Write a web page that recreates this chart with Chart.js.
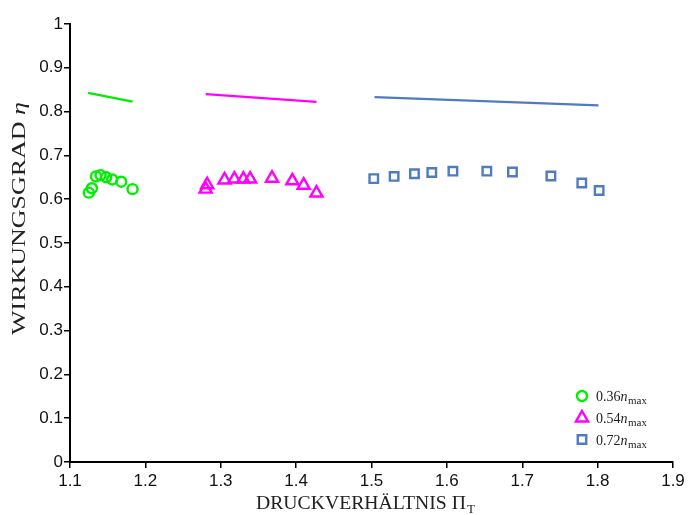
<!DOCTYPE html>
<html>
<head>
<meta charset="utf-8">
<script src="https://cdn.jsdelivr.net/npm/chart.js@4.4.1/dist/chart.umd.min.js"></script>
<style>
  html, body { margin: 0; padding: 0; background: #fff; }
</style>
</head>
<body>
<canvas id="eta" width="688" height="515"></canvas>
<script>
// measured points (pressure ratio vs efficiency)
const lowPr = [1.125, 1.129, 1.1345, 1.1405, 1.148, 1.156, 1.168, 1.183];
const lowEta = [0.615, 0.625, 0.652, 0.655, 0.650, 0.645, 0.640, 0.623];

const midPr = [1.280, 1.282, 1.305, 1.318, 1.330, 1.339, 1.368, 1.395, 1.410, 1.427];
const midEta = [0.623, 0.633, 0.644, 0.646, 0.646, 0.646, 0.648, 0.642, 0.632, 0.614];

const highPr = [1.503, 1.530, 1.557, 1.580, 1.608, 1.653, 1.687, 1.738, 1.779, 1.802];
const highEta = [0.647, 0.652, 0.658, 0.661, 0.664, 0.664, 0.662, 0.653, 0.637, 0.620];

// lines above the points
const lowLinePr = [1.124, 1.183];
const lowLineEta = [0.843, 0.823];
const midLinePr = [1.280, 1.427];
const midLineEta = [0.840, 0.822];
const highLinePr = [1.504, 1.801];
const highLineEta = [0.833, 0.814];

const xTicks = [1.1, 1.2, 1.3, 1.4, 1.5, 1.6, 1.7, 1.8, 1.9];
const xTickLabels = ['1.1', '1.2', '1.3', '1.4', '1.5', '1.6', '1.7', '1.8', '1.9'];
const yTicks = [0, 0.1, 0.2, 0.3, 0.4, 0.5, 0.6, 0.7, 0.8, 0.9, 1];
const yTickLabels = ['0', '0.1', '0.2', '0.3', '0.4', '0.5', '0.6', '0.7', '0.8', '0.9', '1'];

const legendLabels = ['0.36', '0.54', '0.72'];
const xTitle = 'DRUCKVERHÄLTNIS Π';
const xTitleSub = 'T';
const yTitle = 'WIRKUNGSGRAD ';
const yTitleSym = 'η';

const green = '#00ee00';
const magenta = '#ff00ff';
const blue = '#4f7bc2';

function pts(xs, ys) {
  return xs.map((x, i) => ({ x: x, y: ys[i] }));
}

function lineSet(xs, ys, color) {
  return {
    data: pts(xs, ys),
    showLine: true,
    borderColor: color,
    borderWidth: 2.3,
    pointRadius: 0,
    fill: false
  };
}

function markerSet(xs, ys, color, style, r) {
  return {
    data: pts(xs, ys),
    showLine: false,
    pointStyle: style,
    pointRadius: r,
    borderColor: color,
    backgroundColor: 'rgba(0,0,0,0)',
    borderWidth: 2.4
  };
}

const markers = [
  { color: green, style: 'circle', r: 5 },
  { color: magenta, style: 'triangle', r: 7 },
  { color: blue, style: 'rect', r: 6 }
];

// titles with sub/italic parts and the legend, drawn on the canvas
const decorations = {
  id: 'decorations',
  afterDraw(chart) {
    const ctx = chart.ctx;
    const area = chart.chartArea;
    ctx.save();
    ctx.fillStyle = '#222';
    ctx.textBaseline = 'alphabetic';

    // x title
    ctx.font = '18px "Liberation Serif"';
    const w1 = ctx.measureText(xTitle).width;
    ctx.font = '12px "Liberation Serif"';
    const w2 = ctx.measureText(xTitleSub).width;
    const total = w1 + w2 + 1;
    const sx = 219 / total;
    ctx.save();
    ctx.translate((area.left + area.right) / 2 - 6 - 219 / 2, 509);
    ctx.scale(sx, 1);
    ctx.textAlign = 'left';
    ctx.font = '18px "Liberation Serif"';
    ctx.fillText(xTitle, 0, 0);
    ctx.font = '12px "Liberation Serif"';
    ctx.fillText(xTitleSub, w1 + 1, 4);
    ctx.restore();

    // y title
    ctx.font = '18px "Liberation Serif"';
    const h1 = ctx.measureText(yTitle).width;
    ctx.font = 'italic 18px "Liberation Serif"';
    const h2 = ctx.measureText(yTitleSym).width;
    const sy = 233 / (h1 + h2);
    ctx.save();
    ctx.translate(25, 218.5);
    ctx.rotate(-Math.PI / 2);
    ctx.scale(sy, 1);
    ctx.textAlign = 'left';
    ctx.font = '18px "Liberation Serif"';
    ctx.fillText(yTitle, -(h1 + h2) / 2, 0);
    ctx.font = 'italic 18px "Liberation Serif"';
    ctx.fillText(yTitleSym, -(h1 + h2) / 2 + h1, 0);
    ctx.restore();

    // legend
    const lx = area.right - 91;
    const ly = [396, 418, 439.5];
    legendLabels.forEach((label, i) => {
      const m = markers[i];
      ctx.strokeStyle = m.color;
      ctx.fillStyle = 'rgba(0,0,0,0)';
      ctx.lineWidth = 2.4;
      Chart.helpers.drawPoint(ctx, { pointStyle: m.style, radius: m.r, borderWidth: 2.4, rotation: 0 }, lx, ly[i]);
      ctx.fillStyle = '#222';
      let tx = lx + 14;
      ctx.font = '14px "Liberation Serif"';
      ctx.fillText(label, tx, ly[i] + 5);
      tx += ctx.measureText(label).width;
      ctx.font = 'italic 14px "Liberation Serif"';
      ctx.fillText('n', tx, ly[i] + 5);
      tx += ctx.measureText('n').width + 0.5;
      ctx.font = '11px "Liberation Serif"';
      ctx.fillText('max', tx, ly[i] + 8);
    });
    ctx.restore();
  }
};

const ctx = document.getElementById('eta');

const chart = new Chart(ctx, {
  type: 'scatter',
  data: {
    datasets: [
      lineSet(lowLinePr, lowLineEta, green),
      lineSet(midLinePr, midLineEta, magenta),
      lineSet(highLinePr, highLineEta, blue),
      markerSet(lowPr, lowEta, green, 'circle', 5),
      markerSet(midPr, midEta, magenta, 'triangle', 7),
      markerSet(highPr, highEta, blue, 'rect', 6)
    ]
  },
  options: {
    responsive: false,
    animation: false,
    layout: { padding: { top: 24, right: 15, left: 0, bottom: 0 } },
    plugins: {
      legend: { display: false },
      tooltip: { enabled: false }
    },
    scales: {
      x: {
        type: 'linear',
        min: 1.1,
        max: 1.9,
        afterBuildTicks: s => { s.ticks = xTicks.map(v => ({ value: v })); },
        afterFit: s => { s.height = 53; },
        ticks: {
          callback: (v, i) => xTickLabels[i],
          color: '#111',
          padding: 3,
          maxRotation: 0,
          font: { family: '"Liberation Sans", Arial, sans-serif', size: 17 }
        },
        grid: { drawOnChartArea: false, drawTicks: true, tickLength: 6, color: '#000', lineWidth: 1.5 },
        border: { display: true, color: '#000', width: 2 },
        title: { display: false }
      },
      y: {
        type: 'linear',
        min: 0,
        max: 1,
        afterBuildTicks: s => { s.ticks = yTicks.map(v => ({ value: v })); },
        afterFit: s => { s.width = 70; },
        ticks: {
          callback: (v, i) => yTickLabels[i],
          color: '#111',
          padding: 1,
          font: { family: '"Liberation Sans", Arial, sans-serif', size: 17 }
        },
        grid: { drawOnChartArea: false, drawTicks: true, tickLength: 6, color: '#000', lineWidth: 1.5 },
        border: { display: true, color: '#000', width: 2 },
        title: { display: false }
      }
    }
  },
  plugins: [decorations]
});
</script>
</body>
</html>
